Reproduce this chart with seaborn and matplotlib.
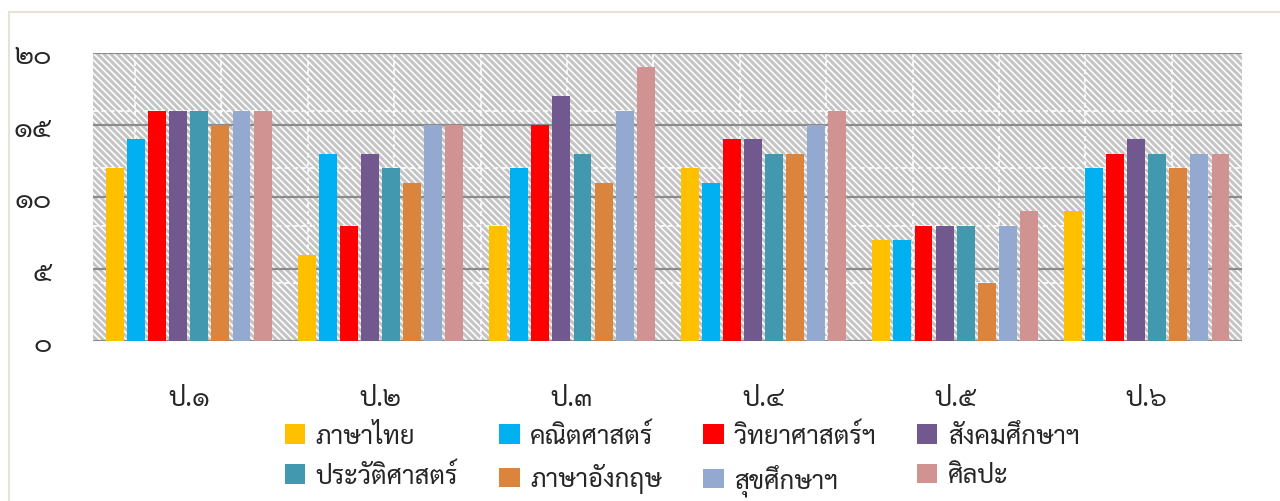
import numpy as np
import pandas as pd
import matplotlib
matplotlib.use("Agg")
import matplotlib.pyplot as plt
import seaborn as sns
from matplotlib.patches import Rectangle

# data
grades = ["ป.๑", "ป.๒", "ป.๓", "ป.๔", "ป.๕", "ป.๖"]
subjects = ["ภาษาไทย", "คณิตศาสตร์", "วิทยาศาสตร์ฯ", "สังคมศึกษาฯ",
            "ประวัติศาสตร์", "ภาษาอังกฤษ", "สุขศึกษาฯ", "ศิลปะ"]
thai = [12, 6, 8, 12, 7, 9]
math = [14, 13, 12, 11, 7, 12]
science = [16, 8, 15, 14, 8, 13]
social = [16, 13, 17, 14, 8, 14]
history = [16, 12, 13, 13, 8, 13]
english = [15, 11, 11, 13, 4, 12]
health = [16, 15, 16, 15, 8, 13]
art = [16, 15, 19, 16, 9, 13]
ytick_vals = [0, 5, 10, 15, 20]
ytick_labels = ["๐", "๕", "๑๐", "๑๕", "๒๐"]

colors = ["#FFC000", "#00B0F0", "#FF0000", "#71588F",
          "#4198AF", "#DB843D", "#93A9CF", "#D19392"]

series = [thai, math, science, social, history, english, health, art]
rows = []
for subj, vals in zip(subjects, series):
    for g, v in zip(grades, vals):
        rows.append({"grade": g, "subject": subj, "score": v})
df = pd.DataFrame(rows)

sns.set_style("white")
plt.rcParams["font.family"] = ["Sarabun", "Loma", "DejaVu Sans"]
plt.rcParams["hatch.linewidth"] = 1.2

fig = plt.figure(figsize=(12.8, 5.02), dpi=100)
fig.patches.append(Rectangle((0.007, -0.1), 1.1, 1.075, transform=fig.transFigure,
                             fill=False, edgecolor="#e6e2d6", linewidth=1.5))
ax = fig.add_axes([0.0727, 0.3187, 0.898, 0.5737])

# hatched grey background
ax.add_patch(Rectangle((0, 0), 1, 1, transform=ax.transAxes, facecolor="#c4c4c4",
                       edgecolor="white", hatch="\\" * 5, linewidth=0, zorder=0))
for xv in np.arange(-0.281, 5.5, 0.451):
    ax.axvline(xv, color="white", linestyle=(0, (3, 2)), linewidth=1.2, zorder=0.5)
for yv in [4, 8, 12, 16]:
    ax.axhline(yv, color="white", linestyle=(0, (3, 2)), linewidth=1.2, zorder=0.5)
for yv in ytick_vals:
    ax.axhline(yv, color="#8c8c8c", linewidth=1.6, zorder=0.8)

sns.barplot(data=df, x="grade", y="score", hue="subject", hue_order=subjects,
            palette=colors, width=0.88, gap=0.15, saturation=1, linewidth=0,
            ax=ax, zorder=2)

ax.set_xlim(-0.5, 5.5)
ax.set_ylim(0, 20)
ax.set_yticks(ytick_vals)
ax.set_yticklabels(ytick_labels, fontsize=20)
ax.tick_params(axis="y", length=0, pad=30)
ax.tick_params(axis="x", length=0, pad=31, labelsize=19)
ax.set_xlabel("")
ax.set_ylabel("")
for s in ax.spines.values():
    s.set_visible(False)

handles, labels = ax.get_legend_handles_labels()
ax.get_legend().remove()
order = [0, 4, 1, 5, 2, 6, 3, 7]
fig.legend([handles[i] for i in order], [labels[i] for i in order],
           loc="upper center", bbox_to_anchor=(0.533, 0.2), ncol=4,
           frameon=False, fontsize=18.5, handlelength=0.8, handleheight=0.8,
           handletextpad=0.4, columnspacing=1.6, labelspacing=0.55)

fig.savefig("out.png", dpi=100)
